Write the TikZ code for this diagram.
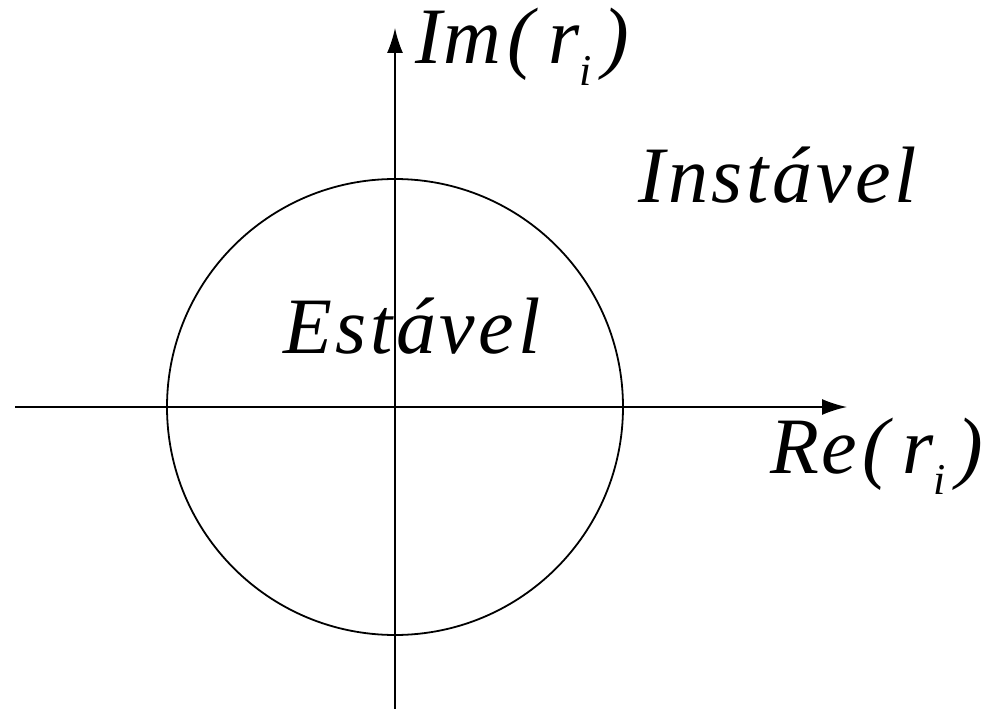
\documentclass[tikz,border=0pt]{standalone}
\usepackage{fontspec}
\setmainfont{Liberation Serif}
\newfontfamily\lblfont[LetterSpace=4.5]{Liberation Serif}
\usetikzlibrary{arrows.meta}
\newcommand{\subi}{\raisebox{-21pt}{\fontsize{44}{44}\selectfont\itshape i}}
\tikzset{
  axis/.style={line width=1.8pt, -{Latex[length=25pt,width=16pt]}},
  lbl/.style={anchor=base west, inner sep=0pt, font=\lblfont\fontsize{80}{80}\selectfont\itshape}
}
\begin{document}
\begin{tikzpicture}[x=1pt,y=-1pt]
\useasboundingbox (0,0) rectangle (997,709);
\coordinate (o) at (395,407);
\coordinate (xs) at (15,407);
\coordinate (xe) at (847,407);
\coordinate (ys) at (395,709);
\coordinate (ye) at (395,28);
\draw[line width=1.8pt] (o) circle[radius=228];
\draw[axis] (xs) -- (xe);
\draw[axis] (ys) -- (ye);
\node[lbl] (im) at (415,64) {I\hspace{2pt}m\hspace{6pt}(\hspace{14pt}r\subi\hspace{11pt})};
\node[lbl] (re) at (770,473) {R\hspace{2pt}e\hspace{6pt}(\hspace{13pt}r\subi\hspace{11pt})};
\node[lbl] (inst) at (638,202) {Instável};
\node[lbl] (est) at (283,353) {Estável};
\end{tikzpicture}
\end{document}
